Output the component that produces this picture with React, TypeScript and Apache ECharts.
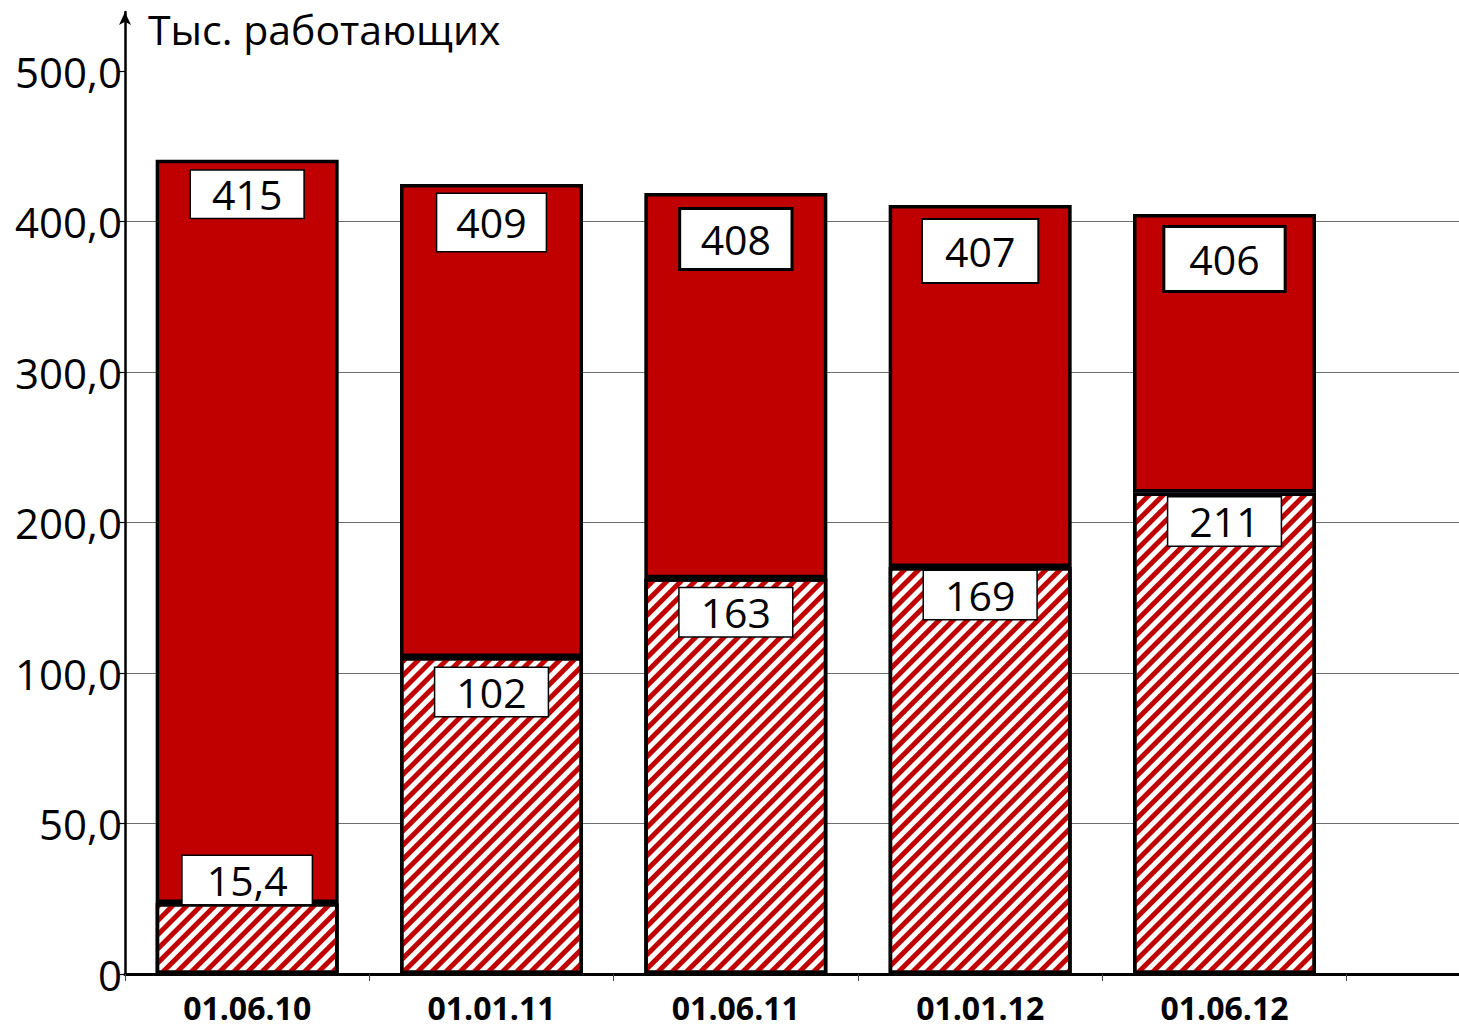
import React, { useEffect, useRef } from 'react';
import * as echarts from 'echarts';

// ---- data ----
const categories = ['01.06.10', '01.01.11', '01.06.11', '01.01.12', '01.06.12', ''];
const yTickValues = [0, 50, 100, 200, 300, 400, 500];
const yTickLabels = ['0', '50,0', '100,0', '200,0', '300,0', '400,0', '500,0'];
// heights of the bars as drawn against the axis (thousand workers)
const totalHeights = [441, 425, 419, 411, 405];
const hatchedHeights = [23.6, 110.6, 163, 170.4, 220];
// values printed in the boxes
const totalLabels = ['415', '409', '408', '407', '406'];
const hatchedLabels = ['15,4', '102', '163', '169', '211'];
const axisTitle = 'Тыс. работающих';

// piecewise-linear mapping of a value onto the equally spaced ticks of the axis
function toAxis(v: number): number {
  for (let i = 1; i < yTickValues.length; i++) {
    if (v <= yTickValues[i]) {
      const a = yTickValues[i - 1];
      const b = yTickValues[i];
      return i - 1 + (v - a) / (b - a);
    }
  }
  const n = yTickValues.length - 1;
  return n + (v - yTickValues[n]) / (yTickValues[n] - yTickValues[n - 1]);
}

const FONT = '"Open Sans", "Noto Sans", sans-serif';
const RED = '#C00000';

export default function App() {
  const ref = useRef<HTMLDivElement>(null);

  useEffect(() => {
    if (!ref.current) return;
    const chart = echarts.init(ref.current, null, { renderer: 'svg' });

    const topBox = [
      { pv: 2.5, ph: 21, bw: 1.5, d: 11 },
      { pv: 7.5, ph: 19, bw: 1.5, d: 10 },
      { pv: 8, ph: 19.5, bw: 3, d: 17 },
      { pv: 10, ph: 22, bw: 2, d: 15 },
      { pv: 10, ph: 24, bw: 3, d: 14 },
    ];
    const lowBox = [
      { pos: 'top', d: -1 },
      { pos: 'insideTop', d: 11 },
      { pos: 'insideTop', d: 10 },
      { pos: 'insideTop', d: 4 },
      { pos: 'insideTop', d: 5 },
    ];

    const baseLabel = {
      show: true,
      color: '#000',
      fontFamily: FONT,
      fontSize: 41,
      lineHeight: 42,
      backgroundColor: '#fff',
      borderColor: '#000',
    };

    const hatchedData = hatchedHeights.map((h, i) => ({
      value: toAxis(h),
      label: {
        ...baseLabel,
        position: lowBox[i].pos,
        distance: lowBox[i].d,
        borderWidth: 1.5,
        padding: [3, i === 0 ? 24 : 21],
        formatter: () => hatchedLabels[i],
      },
    }));

    const redData = totalHeights.map((t, i) => ({
      value: toAxis(t) - toAxis(hatchedHeights[i]),
      label: {
        ...baseLabel,
        position: 'insideTop',
        distance: topBox[i].d,
        borderWidth: topBox[i].bw,
        padding: [topBox[i].pv, topBox[i].ph],
        formatter: () => totalLabels[i],
      },
    }));

    const gridTop = 12;
    const gridBottom = 57;
    const unitPx = 150.5;
    const yMax = (1031 - gridTop - gridBottom) / unitPx;

    chart.setOption({
      animation: false,
      backgroundColor: '#fff',
      grid: { left: 125, right: 0, top: gridTop, bottom: gridBottom, containLabel: false },
      graphic: [
        {
          type: 'text',
          left: 148,
          top: 8,
          style: { text: axisTitle, fontFamily: FONT, fontSize: 41, fill: '#000' },
        },
      ],
      xAxis: {
        type: 'category',
        data: categories,
        axisLine: { show: true, lineStyle: { color: '#000', width: 3 } },
        axisTick: { show: true, length: 7, lineStyle: { color: '#444', width: 1 } },
        axisLabel: {
          color: '#000',
          fontFamily: FONT,
          fontWeight: 'bold',
          fontSize: 32,
          lineHeight: 32,
          margin: 17,
        },
        splitLine: { show: false },
      },
      yAxis: {
        type: 'value',
        min: 0,
        max: yMax,
        interval: 1,
        axisLine: {
          show: true,
          lineStyle: { color: '#000', width: 2.5 },
          symbol: ['none', 'arrow'],
          symbolSize: [9, 13],
        },
        axisTick: {
          show: true,
          length: 6,
          lineStyle: { color: '#000', width: 1.2 },
          customValues: yTickValues.map((_, i) => i),
        },
        axisLabel: {
          color: '#000',
          fontFamily: FONT,
          fontSize: 42,
          margin: 3,
          customValues: yTickValues.map((_, i) => i),
          formatter: (v: number) => {
            const i = Math.round(v);
            return Math.abs(v - i) < 1e-6 && yTickLabels[i] !== undefined ? yTickLabels[i] : '';
          },
        },
        splitLine: {
          show: true,
          showMinLine: false,
          showMaxLine: false,
          lineStyle: { color: '#6e6e6e', width: 1 },
        },
      },
      series: [
        {
          name: 'hatched',
          type: 'bar',
          stack: 'total',
          barWidth: 183,
          z: 3,
          data: hatchedData,
          itemStyle: {
            color: '#fff',
            borderColor: '#000',
            borderWidth: 3.5,
            decal: {
              symbol: 'rect',
              symbolSize: 1,
              color: RED,
              dashArrayX: [1, 0],
              dashArrayY: [5, 4.5],
              rotation: -Math.PI / 4,
            },
          },
        },
        {
          name: 'total',
          type: 'bar',
          stack: 'total',
          barWidth: 183,
          z: 2,
          data: redData,
          itemStyle: {
            color: RED,
            borderColor: '#000',
            borderWidth: 3.5,
          },
        },
      ],
    });

    return () => chart.dispose();
  }, []);

  // the chart is wider than the window: its sixth (empty) category lies past the right edge
  return (
    <div
      ref={ref}
      style={{ position: 'fixed', left: 0, top: 0, width: 1591, height: 1031, background: '#fff' }}
    />
  );
}
